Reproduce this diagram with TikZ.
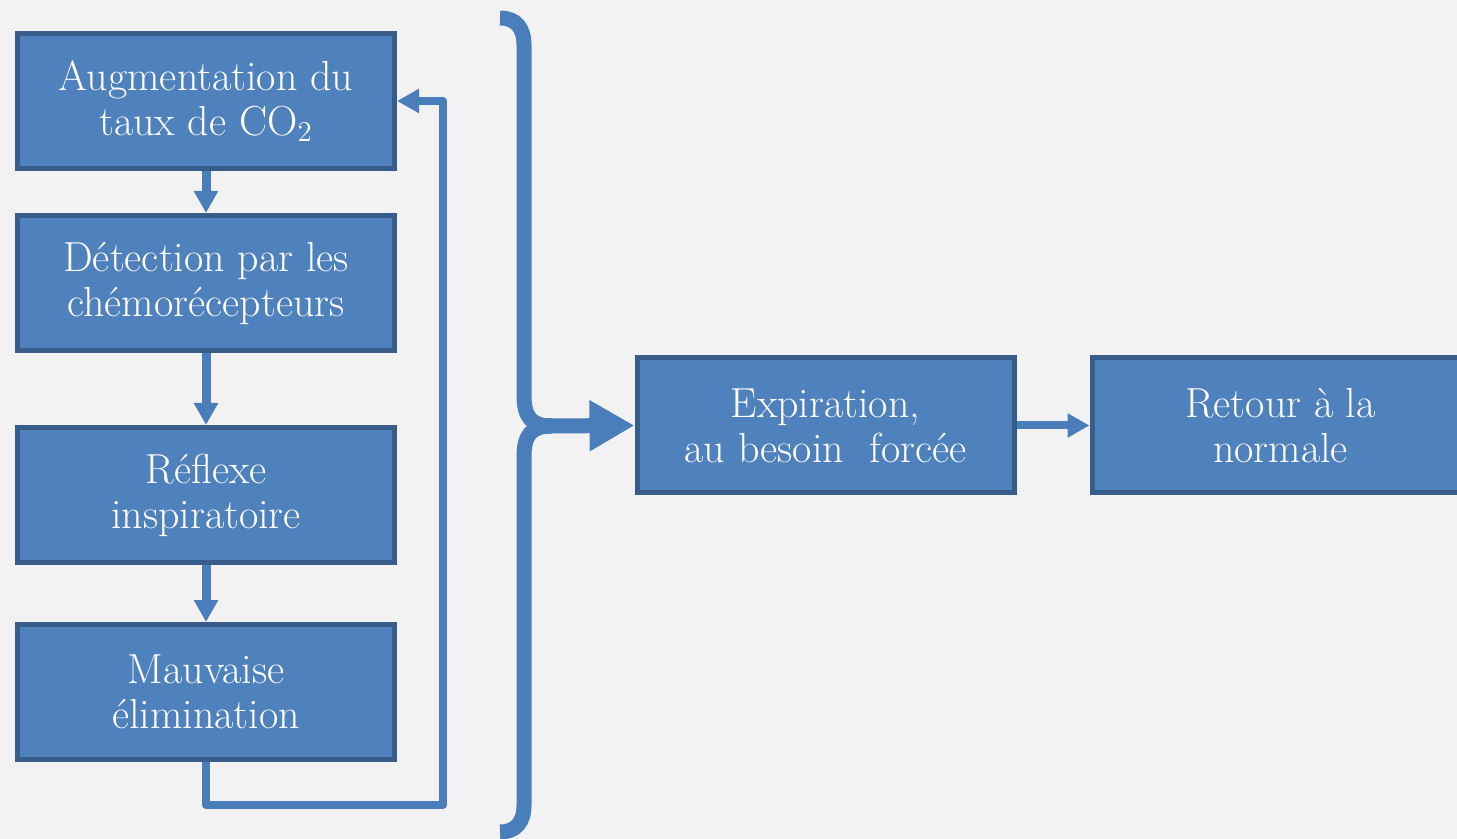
\documentclass[tikz,border=0pt]{standalone}
\usetikzlibrary{arrows.meta,positioning}
\definecolor{boxblue}{RGB}{79,129,189}
\definecolor{edgeblue}{RGB}{56,93,138}
\definecolor{lineblue}{RGB}{74,126,187}
\definecolor{paper}{RGB}{242,242,242}

\begin{document}
\begin{tikzpicture}[x=0.5pt, y=-0.5pt, auto,
        box/.style={
            rectangle,
            draw=edgeblue,
            fill=boxblue,
            line width=2.5pt,
            minimum width=188.5pt,
            minimum height=67.5pt,
            inner sep=0pt,
            align=center,
            text=white,
            font=\fontsize{21}{22.5}\selectfont
        },
        flow/.style={
            draw=lineblue,
            line width=4.5pt,
            line join=round,
            -{Triangle[length=11pt,width=11.5pt]}
        },
        bracearm/.style={
            draw=lineblue,
            line width=7.5pt
        },
        bigflow/.style={
            draw=lineblue,
            line width=7.5pt,
            -{Triangle[length=22.5pt,width=24pt]}
        }
    ]

        \path[use as bounding box, fill=paper] (0,0) rectangle (1457,839);
        \clip (0,0) rectangle (1457,839);

        \node (1) [box] at (206,101)
        {
            Augmentation du\\ taux de CO$_2$
        };

        \node (2) [
            box,
            below=21pt of 1
        ]
        {
            Détection par les\\ chémorécepteurs
        };

        \node (3) [
            box,
            below=36pt of 2
        ]
        {
            Réflexe\\ inspiratoire
        };

        \node (4) [
            box,
            below=28.5pt of 3
        ]
        {
            Mauvaise\\ élimination
        };

        \node (5) [box] at (825.5,425.5)
        {
            Expiration,\\ au besoin\ \ forcée
        };

        \node (6) [
            box,
            right=36.5pt of 5
        ]
        {
            Retour à la\\ normale
        };

        \coordinate (loop) at (443,805);
        \coordinate (tip) at (540,426);

        \draw[flow] (1) to (2);
        \draw[flow] (2) to (3);
        \draw[flow] (3) to (4);
        \draw[flow, line width=4pt] (4.south) |- (loop) |- (1.east);

        \draw[bracearm] (500,18) .. controls (516,18) and (524,28) .. (524,45)
            -- (524,395) .. controls (524,418) and (532,426) .. (552,426);
        \draw[bracearm] (500,832) .. controls (516,832) and (524,822) .. (524,805)
            -- (524,457) .. controls (524,434) and (532,426) .. (552,426);
        \draw[bigflow] (tip) to (5.west);

        \draw[flow, line width=4pt] (5) to (6);
    \end{tikzpicture}
\end{document}
